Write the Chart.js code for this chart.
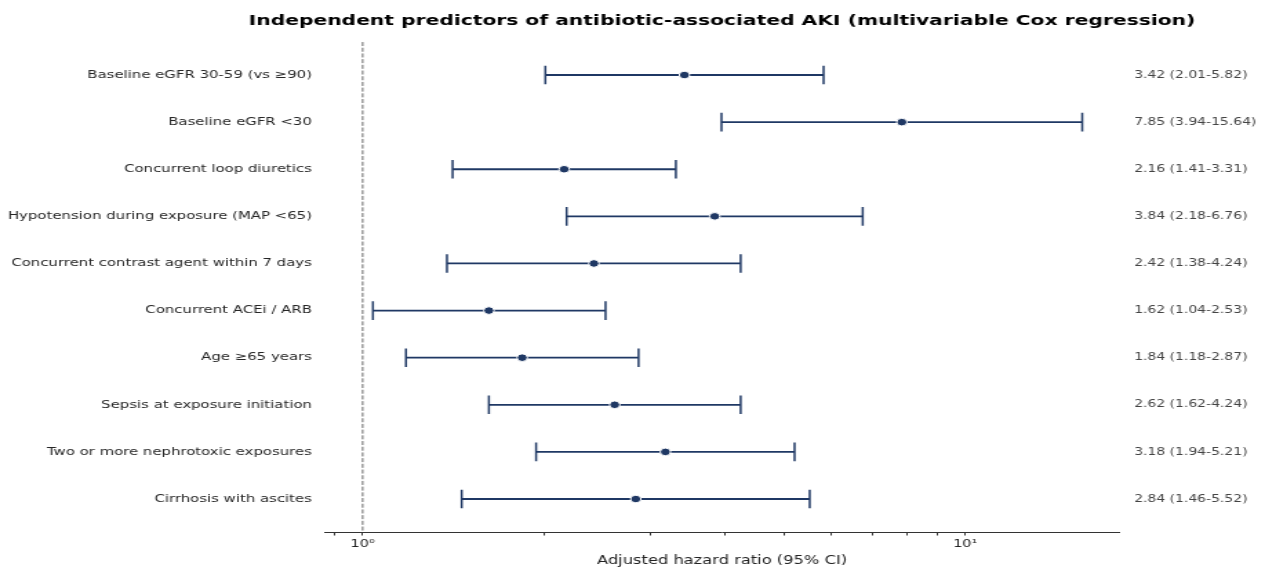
<!DOCTYPE html>
<html>
<head>
<meta charset="utf-8">
<script src="https://cdn.jsdelivr.net/npm/chart.js@4/dist/chart.umd.min.js"></script>
<style>
  html, body { margin: 0; padding: 0; background: #fff; overflow: hidden; }
</style>
</head>
<body>
<canvas id="forest" width="917" height="567" style="width:1265px;height:567px"></canvas>
<script>
// the reference is stretched sideways, so draw narrow and let css widen it
const SX = 1265 / 917;

const predictors = [
    "Baseline eGFR 30-59 (vs \u226590)",
    "Baseline eGFR <30",
    "Concurrent loop diuretics",
    "Hypotension during exposure (MAP <65)",
    "Concurrent contrast agent within 7 days",
    "Concurrent ACEi / ARB",
    "Age \u226565 years",
    "Sepsis at exposure initiation",
    "Two or more nephrotoxic exposures",
    "Cirrhosis with ascites"
];
const hazardRatio = [3.42, 7.85, 2.16, 3.84, 2.42, 1.62, 1.84, 2.62, 3.18, 2.84];
const ciLow = [2.01, 3.94, 1.41, 2.18, 1.38, 1.04, 1.18, 1.62, 1.94, 1.46];
const ciHigh = [5.82, 15.64, 3.31, 6.76, 4.24, 2.53, 2.87, 4.24, 5.21, 5.52];
const xTicks = [0.9, 1, 2, 3, 4, 5, 6, 7, 8, 9, 10];

const annotations = hazardRatio.map((v, i) =>
    v.toFixed(2) + " (" + ciLow[i].toFixed(2) + "-" + ciHigh[i].toFixed(2) + ")");

const navy = '#1f3864';
const rows = predictors.map((p, i) => i);

const ciLines = rows.map(i => ({
    data: [{x: ciLow[i], y: i}, {x: ciHigh[i], y: i}],
    showLine: true,
    borderColor: navy,
    borderWidth: 1.8,
    pointRadius: 0,
    order: 3
}));

const caps = {
    data: rows.flatMap(i => [{x: ciLow[i], y: i}, {x: ciHigh[i], y: i}]),
    pointStyle: 'line',
    rotation: 90,
    pointRadius: 9.3,
    borderColor: navy,
    borderWidth: 1.5,
    order: 2
};

const estimates = {
    data: rows.map(i => ({x: hazardRatio[i], y: i})),
    pointStyle: 'circle',
    pointRadius: 3.8,
    backgroundColor: navy,
    borderColor: '#ffffff',
    borderWidth: 1,
    order: 1
};

const refLine = {
    data: [{x: 1, y: -0.7}, {x: 1, y: 9.7}],
    showLine: true,
    borderColor: '#666666',
    borderWidth: 1,
    borderDash: [4, 1.7],
    pointRadius: 0,
    order: 4
};

const rowTicks = scale => { scale.ticks = rows.map(v => ({value: v})); };

// centre the title over the plot area, like the matplotlib suptitle
const titleOverPlot = {
    id: 'titleOverPlot',
    afterLayout(chart) {
        const t = chart.titleBlock;
        const ca = chart.chartArea;
        const shift = (ca.left + ca.right) / 2 - (t.left + t.right) / 2;
        t.left += shift;
        t.right += shift;
    }
};

const config = {
    type: 'scatter',
    data: { datasets: [refLine, ...ciLines, caps, estimates] },
    options: {
        responsive: false,
        animation: false,
        devicePixelRatio: 1,
        layout: { padding: 0 },
        plugins: {
            legend: false,
            tooltip: { enabled: false },
            title: {
                display: true,
                text: 'Independent predictors of antibiotic-associated AKI (multivariable Cox regression)',
                color: '#000',
                font: { family: 'DejaVu Sans', size: 14.7, weight: 'bold' },
                padding: { top: 12.7, bottom: 11.7 }
            }
        },
        scales: {
            x: {
                type: 'logarithmic',
                min: 0.866,
                max: 18,
                afterFit: s => { s.height = 35; },
                afterBuildTicks: s => { s.ticks = xTicks.map(v => ({value: v})); },
                grid: { drawOnChartArea: false, drawTicks: true, tickLength: 3.5, tickColor: '#333', tickWidth: 1 },
                border: { display: true, color: '#333', width: 1 },
                ticks: {
                    autoSkip: false,
                    maxRotation: 0,
                    padding: 2.5,
                    color: '#222',
                    font: { family: 'DejaVu Sans', size: 10.5 },
                    callback: v => v === 1 ? '10\u2070' : (v === 10 ? '10\u00b9' : '')
                },
                title: {
                    display: true,
                    text: 'Adjusted hazard ratio (95% CI)',
                    color: '#222',
                    font: { family: 'DejaVu Sans', size: 11.8, lineHeight: 1 },
                    padding: { top: 0, bottom: 0 }
                }
            },
            y: {
                type: 'linear',
                position: 'left',
                min: -0.7,
                max: 9.7,
                reverse: true,
                afterFit: s => { s.width = 325 / SX; },
                afterBuildTicks: rowTicks,
                grid: { display: false, drawTicks: false },
                border: { display: false },
                ticks: {
                    padding: 9.5,
                    color: '#262626',
                    font: { family: 'DejaVu Sans', size: 10.8 },
                    callback: v => predictors[v]
                }
            },
            y2: {
                type: 'linear',
                position: 'right',
                min: -0.7,
                max: 9.7,
                reverse: true,
                afterFit: s => { s.width = 917 - 1119 / SX; },
                afterBuildTicks: rowTicks,
                grid: { display: false, drawTicks: false },
                border: { display: false },
                ticks: {
                    padding: 11,
                    color: '#444',
                    font: { family: 'DejaVu Sans', size: 10.1 },
                    callback: v => annotations[v]
                }
            }
        }
    },
    plugins: [titleOverPlot]
};

const forestChart = new Chart(document.getElementById('forest'), config);
</script>
</body>
</html>
